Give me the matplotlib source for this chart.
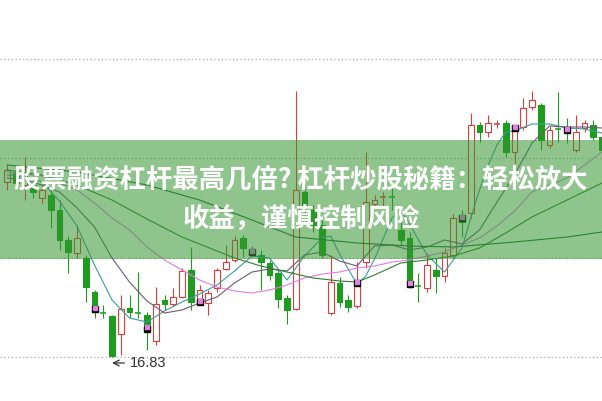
import matplotlib
matplotlib.use('Agg')
import numpy as np
import matplotlib.pyplot as plt
from matplotlib.patches import Rectangle

# daily candles (price), left to right
opens = [20.33, 20.53, 20.27, 20.27, 20.01, 20.07, 19.77, 19.17, 18.91, 18.81,
         18.13, 17.73, 17.65, 17.29, 17.81, 17.73, 17.67, 17.15, 17.97, 17.89,
         18.03, 18.57, 17.91, 17.91, 18.21, 18.59, 18.77, 19.21, 18.97, 18.87,
         18.71, 18.51, 18.01, 17.79, 20.13, 19.77, 19.47, 17.71, 18.31, 17.97,
         17.85, 18.73, 19.89, 20.03, 20.03, 19.37, 19.21, 18.25, 18.21, 18.57,
         18.45, 18.87, 19.67, 19.71, 21.47, 21.33, 21.49, 21.51, 20.93, 21.43,
         21.83, 21.87, 21.07, 21.41, 21.37, 20.97, 21.41, 21.47, 21.23]
highs = [20.67, 20.61, 20.83, 20.37, 20.27, 20.17, 19.97, 19.25, 19.47, 18.87,
         18.17, 17.87, 17.67, 18.07, 18.07, 18.53, 17.73, 18.23, 18.07, 18.21,
         18.61, 19.03, 18.27, 18.17, 18.61, 19.07, 19.25, 19.27, 19.05, 18.97,
         18.77, 18.57, 18.07, 22.15, 20.27, 19.87, 19.57, 18.87, 18.43, 18.07,
         18.73, 20.93, 20.07, 20.13, 20.21, 19.67, 19.33, 18.51, 18.91, 18.81,
         19.01, 19.69, 19.77, 21.71, 21.53, 21.67, 21.57, 21.57, 21.43, 22.01,
         22.15, 21.91, 21.45, 22.13, 21.61, 21.67, 21.57, 21.57, 21.33]
lows = [20.17, 20.17, 19.97, 20.01, 19.91, 19.41, 18.97, 18.51, 18.81, 17.93,
        17.61, 17.61, 16.83, 16.87, 17.61, 17.61, 16.97, 17.07, 17.77, 17.85,
        18.01, 17.77, 17.87, 17.67, 18.13, 18.57, 18.73, 18.83, 18.85, 18.17,
        18.37, 17.81, 17.49, 17.77, 19.67, 19.33, 18.81, 17.67, 17.83, 17.73,
        17.81, 18.61, 19.81, 19.83, 19.77, 19.07, 18.21, 17.93, 18.13, 18.11,
        18.33, 18.81, 19.23, 19.61, 21.13, 21.23, 21.41, 20.83, 20.71, 21.37,
        21.77, 20.97, 21.01, 21.13, 21.11, 20.93, 21.33, 21.17, 20.93]
closes = [20.57, 20.31, 20.47, 20.13, 20.17, 19.77, 19.17, 18.93, 19.21, 18.23,
          17.83, 17.71, 16.85, 17.79, 17.73, 17.71, 17.47, 17.89, 17.89, 18.03,
          18.55, 17.93, 18.17, 18.11, 18.57, 18.73, 19.17, 19.01, 18.93, 18.73,
          18.47, 17.99, 17.77, 20.17, 19.83, 19.47, 18.87, 18.33, 17.93, 17.83,
          18.27, 19.93, 19.97, 20.05, 20.01, 19.17, 18.27, 18.23, 18.67, 18.45,
          18.91, 19.61, 19.53, 21.47, 21.33, 21.51, 21.51, 20.93, 21.37, 21.81,
          21.97, 21.17, 21.37, 21.39, 21.35, 21.33, 21.51, 21.23, 20.97]

# signal markers (candle index, price)
mark_idx = [10, 16, 22, 28, 40, 46, 52, 58, 64]
mark_price = [17.79, 17.39, 17.93, 18.93, 18.31, 18.29, 19.61, 21.41, 21.37]

# moving averages
ma5_idx = [0, 2, 4, 6, 8, 10, 12, 14, 16, 18, 20, 22, 24, 26, 28, 30, 32, 33, 34, 36,
           37, 38, 40, 41, 42, 44, 45, 46, 48, 50, 52, 53, 54, 55, 56, 57, 58, 60, 62, 64,
           66, 68]
ma5 = [20.47, 20.45, 20.33, 19.95, 19.45, 18.67, 17.97, 17.61, 17.53, 17.75,
       17.93, 18.09, 18.27, 18.55, 18.85, 18.81, 18.37, 18.61, 18.85, 19.21,
       19.25, 18.89, 18.29, 18.45, 18.79, 19.61, 19.77, 19.49, 18.87, 18.53,
       19.01, 19.61, 20.17, 20.67, 21.07, 21.33, 21.35, 21.49, 21.49, 21.41,
       21.39, 21.31]
ma10_idx = list(range(0, 69, 2))
ma10 = [20.41, 20.37, 20.27, 20.13, 19.81, 19.43, 18.81, 18.33, 17.95, 17.71,
        17.77, 17.91, 18.03, 18.31, 18.53, 18.59, 18.55, 18.87, 18.93, 18.75,
        18.65, 19.05, 19.07, 18.97, 19.03, 19.17, 19.09, 19.37, 19.93, 20.47,
        21.11, 21.45, 21.43, 21.43, 21.41]
ma20_idx = [0, 4] + list(range(8, 69, 2))
ma20 = [20.53, 20.45, 20.17, 19.91, 19.61, 19.37, 19.03, 18.77, 18.57, 18.37,
        18.23, 18.15, 18.11, 18.17, 18.27, 18.41, 18.49, 18.53, 18.61, 18.65,
        18.73, 18.77, 18.85, 18.93, 19.07, 19.21, 19.45, 19.75, 20.13, 20.27,
        20.41, 20.67, 20.93]
ma30_idx = [0, 4, 8, 12, 16, 20, 22, 26, 29, 32, 35, 38, 40, 42, 45, 48, 51, 54, 57, 60, 64, 68]
ma30 = [20.57, 20.47, 20.27, 19.97, 19.59, 19.23, 19.09, 18.81, 18.65, 18.53,
        18.41, 18.35, 18.33, 18.47, 18.71, 18.77, 18.85, 19.01, 19.31, 19.63,
        19.97, 20.31]
ma60_idx = [0, 8, 16, 22, 28, 33, 40, 46, 51, 58, 64, 68]
ma60 = [20.67, 20.53, 20.27, 19.97, 19.57, 19.23, 19.11, 19.05, 19.03, 19.13, 19.23, 19.33]

grid_levels = [16.83, 18.82, 20.81, 22.80]
low_label = '16.83'
title_lines = ['股票融资杠杆最高几倍? 杠杆炒股秘籍：轻松放大', '收益，谨慎控制风险']

UP = '#e03a3a'
DOWN = '#1f9c1f'

fig = plt.figure(figsize=(6.02, 4.01), dpi=100)
ax = fig.add_axes([0, 0, 1, 1])
ax.set_xlim(-0.8, 68.0)
ax.set_ylim(15.95, 23.97)
ax.axis('off')

for g in grid_levels:
    ax.axhline(g, color='#aaaaaa', lw=0.9, ls=(0, (1, 2)), zorder=1)

w = 0.68
for i, (o, h, l, c) in enumerate(zip(opens, highs, lows, closes)):
    col = UP if c >= o else DOWN
    ax.vlines(i, l, h, color=col, lw=0.8, zorder=2)
    if abs(c - o) < 0.04:
        ax.hlines((o + c) / 2, i - w / 2, i + w / 2, color=col, lw=1.1, zorder=3)
    else:
        face = 'white' if c >= o else col
        ax.add_patch(Rectangle((i - w / 2, min(o, c)), w, abs(c - o),
                               facecolor=face, edgecolor=col, lw=0.8, zorder=3))

ax.plot(ma5_idx, ma5, color='#3a9e9e', lw=0.8, zorder=4)
ax.plot(ma10_idx, ma10, color='#6e5a76', lw=0.8, zorder=4)
ax.plot(ma20_idx, ma20, color='#e27de2', lw=0.8, zorder=4)
ax.plot(ma30_idx, ma30, color='#2f7f2f', lw=0.8, zorder=4)
ax.plot(ma60_idx, ma60, color='#1f6a35', lw=0.8, zorder=4)

ax.plot(mark_idx, mark_price, 's', ms=5, color='black', zorder=5)
ax.plot(mark_idx, [p + 0.03 for p in mark_price], 's', ms=2.2,
        color='#e080e0', zorder=5)

ax.annotate(low_label, xy=(12.0, 16.71), xytext=(14.05, 16.71),
            fontsize=10.5, family='Liberation Sans', color='#333333',
            va='center', ha='left',
            arrowprops=dict(arrowstyle='->', color='#333333', lw=0.9,
                            shrinkA=2, shrinkB=0), zorder=5)

# translucent title banner
ax.add_patch(Rectangle((0, 1 - 259 / 401), 1, 119 / 401, transform=ax.transAxes,
                       facecolor='#339630', alpha=0.55, edgecolor='none', zorder=6))
ax.text(0.5, 1 - 180 / 401, title_lines[0], transform=ax.transAxes,
        ha='center', va='center', fontsize=19, fontweight='bold', color='white',
        family=['Noto Sans CJK SC', 'DejaVu Sans'], zorder=7)
ax.text(0.5, 1 - 220 / 401, title_lines[1], transform=ax.transAxes,
        ha='center', va='center', fontsize=19, fontweight='bold', color='white',
        family=['Noto Sans CJK SC', 'DejaVu Sans'], zorder=7)

fig.savefig('out.png', dpi=100)
